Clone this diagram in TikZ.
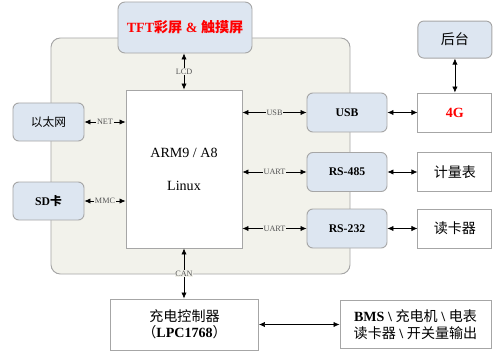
\documentclass[tikz,border=0pt]{standalone}
\usepackage{fontspec}
\setmainfont{Liberation Serif}
\newfontfamily\cjk{Noto Sans CJK SC}
\usepackage{xcolor}
\usetikzlibrary{positioning,arrows.meta}
\definecolor{panelbg}{HTML}{F2F2EB}
\definecolor{ifblue}{HTML}{DDE6F1}
\definecolor{edgegray}{HTML}{A6A6A6}
\definecolor{lblgray}{HTML}{555555}

\begin{document}
\begin{tikzpicture}[
    x=0.03cm, y=-0.03cm,
    box/.style={rectangle, draw=edgegray, thick, align=center, fill=white, inner sep=1pt},
    panel/.style={box, fill=panelbg, rounded corners=8pt, minimum width=8.97cm, minimum height=7.08cm},
    iface/.style={box, fill=ifblue, rounded corners=5pt, minimum width=2.4cm, minimum height=1.17cm, font=\bfseries},
    side/.style={box, fill=ifblue, rounded corners=5pt, minimum width=2.13cm, minimum height=1.14cm},
    ext/.style={box, minimum width=2.22cm, minimum height=1.17cm, font=\large},
    arrow/.style={{Latex[length=1.8mm,width=1.6mm]}-{Latex[length=1.8mm,width=1.6mm]}, semithick},
    lbl/.style={font=\scriptsize, text=lblgray, fill=panelbg, inner sep=0.6pt}
]
\useasboundingbox (0,0) rectangle (494,363);
\node[panel] (panel) at (200.5,156) {};
\node[box, fill=ifblue, rounded corners=6pt, minimum width=4.02cm, minimum height=1.53cm,
      font=\large\bfseries, text=red] (tft) at (185,27.5) {TFT{\cjk 彩屏} \& {\cjk 触摸屏}};
\node[box, minimum width=3.48cm, minimum height=4.74cm, font=\large] (arm) at (184,169)
    {ARM9 / A8\\[14pt] Linux};
\node[side] (eth) at (48.5,122) {\cjk 以太网};
\node[side, font=\bfseries] (sd) at (48.5,201) {SD{\cjk 卡}};
\node[iface] (usb) at (347,112.5) {USB};
\node[iface] (rs485) at (347,172) {RS-485};
\node[iface] (rs232) at (347,228.5) {RS-232};
\node[ext, right=0.9cm of usb, text=red, font=\large\bfseries] (lte) {4G};
\node[ext, fill=ifblue, rounded corners=5pt, minimum height=1.11cm, above=1.02cm of lte] (host) {\cjk 后台};
\node[ext, right=0.9cm of rs485] (meter) {\cjk 计量表};
\node[ext, right=0.9cm of rs232] (reader) {\cjk 读卡器};
\node[box, minimum width=4.44cm, minimum height=1.53cm, font=\large] (ctrl) at (184.5,324.5)
    {{\cjk 充电控制器}\\ {\cjk （}\textbf{LPC1768}{\cjk ）}};
\node[box, minimum width=4.53cm, minimum height=1.44cm, font=\large] (bms) at (415.5,324.5)
    {\textbf{BMS \textbackslash} {\cjk 充电机} \textbf{\textbackslash} {\cjk 电表}\\
     {\cjk 读卡器} \textbf{\textbackslash} {\cjk 开关量输出}};
% connections
\draw[arrow] (arm.north) -- node[lbl] {LCD} (arm.north |- tft.south);
\draw[arrow] (eth) -- node[lbl] {NET} (eth -| arm.west);
\draw[arrow] (sd) -- node[lbl] {MMC} (sd -| arm.west);
\draw[arrow] (usb -| arm.east) -- node[lbl] {USB} (usb);
\draw[arrow] (rs485 -| arm.east) -- node[lbl] {UART} (rs485);
\draw[arrow] (rs232 -| arm.east) -- node[lbl] {UART} (rs232);
\draw[arrow] (arm.south) -- node[lbl] {CAN} (arm.south |- ctrl.north);
\draw[arrow] (usb) -- (lte);
\draw[arrow] (rs485) -- (meter);
\draw[arrow] (rs232) -- (reader);
\draw[arrow] (host) -- (lte);
\draw[arrow] (ctrl) -- (bms);
\end{tikzpicture}
\end{document}
